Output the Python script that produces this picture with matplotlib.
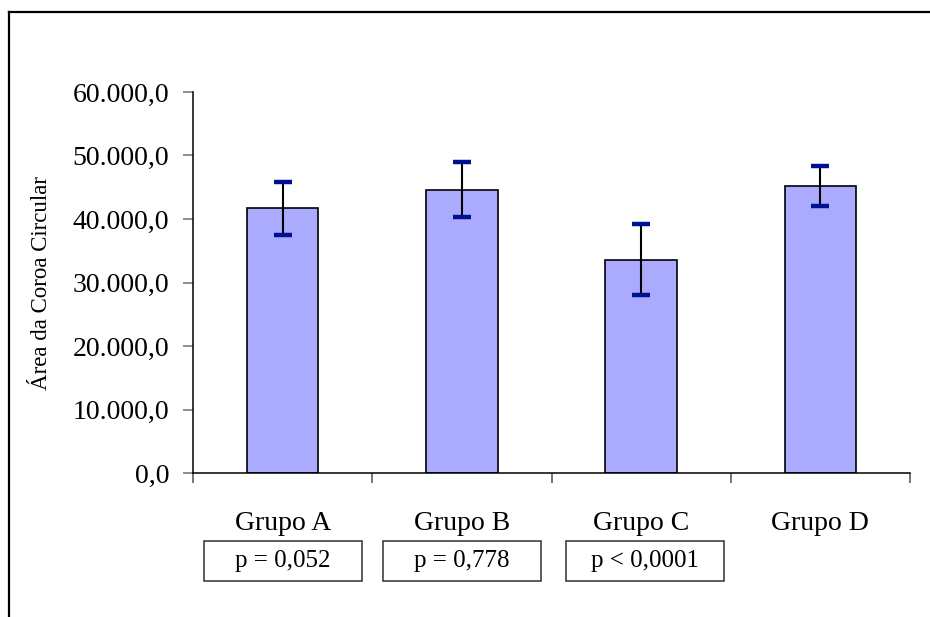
import matplotlib
matplotlib.use('Agg')
import matplotlib.pyplot as plt
from matplotlib.lines import Line2D
from matplotlib.patches import Rectangle
from matplotlib.ticker import FuncFormatter, MultipleLocator

plt.rcParams['font.family'] = ['Liberation Serif', 'DejaVu Serif']

# values
groups = ['Grupo A', 'Grupo B', 'Grupo C', 'Grupo D']
means = [41700, 44600, 33600, 45200]
errors = [4150, 4350, 5550, 3100]
p_labels = ['p = 0,052', 'p = 0,778', 'p < 0,0001']
y_label = 'Área da Coroa Circular'

W, H = 930, 617
fig = plt.figure(figsize=(W / 100, H / 100), dpi=100)
ax = fig.add_axes([193 / W, 144 / H, (910 - 193) / W, (473 - 92) / H])

xs = [i + 0.5 for i in range(len(groups))]
ax.bar(xs, means, width=0.4, color='#AAAAFF', edgecolor='black', linewidth=1.2, zorder=2)
ax.errorbar(xs, means, yerr=errors, fmt='none', ecolor='black', elinewidth=1.5,
            capsize=0, zorder=3)
# caps are navy in the original, separate from the black stem
tops = [m + e for m, e in zip(means, errors)]
bottoms = [m - e for m, e in zip(means, errors)]
ax.plot(xs, tops, ls='none', marker='_', ms=13, mew=3.2, color='#001093', zorder=4)
ax.plot(xs, bottoms, ls='none', marker='_', ms=13, mew=3.2, color='#001093', zorder=4)

ax.set_xlim(0, len(groups))
ax.set_ylim(0, 60000)
ax.yaxis.set_major_locator(MultipleLocator(10000))
ax.set_xticks(range(len(groups) + 1))
ax.set_xticklabels([])


def fmt(v, pos):
    s = f'{v:,.1f}'
    return s.replace(',', 'X').replace('.', ',').replace('X', '.')


ax.yaxis.set_major_formatter(FuncFormatter(fmt))
ax.tick_params(axis='y', direction='out', length=7.2, width=1.1, color='#707070',
               labelsize=20, pad=10)
ax.tick_params(axis='x', direction='out', length=7.2, width=1.1, color='#505050')
for side in ['top', 'right']:
    ax.spines[side].set_visible(False)
for side in ['left', 'bottom']:
    ax.spines[side].set_linewidth(1.1)
    ax.spines[side].set_color('black')

ax.set_ylabel(y_label, fontsize=16.5)
ax.yaxis.set_label_coords(-0.197, 0.5)

# category labels under the axis
trans = ax.get_xaxis_transform()
for x, g in zip(xs, groups):
    ax.text(x, -0.1496, g, transform=trans, ha='center', va='baseline', fontsize=20)

# p-value boxes
box_x = [0.5, 1.5, 2.52]
box_w = 158 / 179.25
for x, p in zip(box_x, p_labels):
    r = Rectangle((x - box_w / 2, -0.2835), box_w, 0.105, transform=trans,
                  facecolor='white', edgecolor='#303030', linewidth=1.1, clip_on=False)
    ax.add_patch(r)
    ax.text(x, -0.2835 + 0.0525, p, transform=trans, ha='center', va='center',
            fontsize=18)

# outer frame of the original figure, with the cut-off letter above it
fig.text(53 / W, 1 + 4 / H, 'Q', ha='left', va='baseline', fontsize=20)
fig.add_artist(Line2D([9 / W, 1], [1 - 12 / H, 1 - 12 / H], color='black', lw=1.6))
fig.add_artist(Line2D([9 / W, 9 / W], [0, 1 - 12 / H], color='black', lw=1.6))

fig.savefig('out.png', dpi=100)
